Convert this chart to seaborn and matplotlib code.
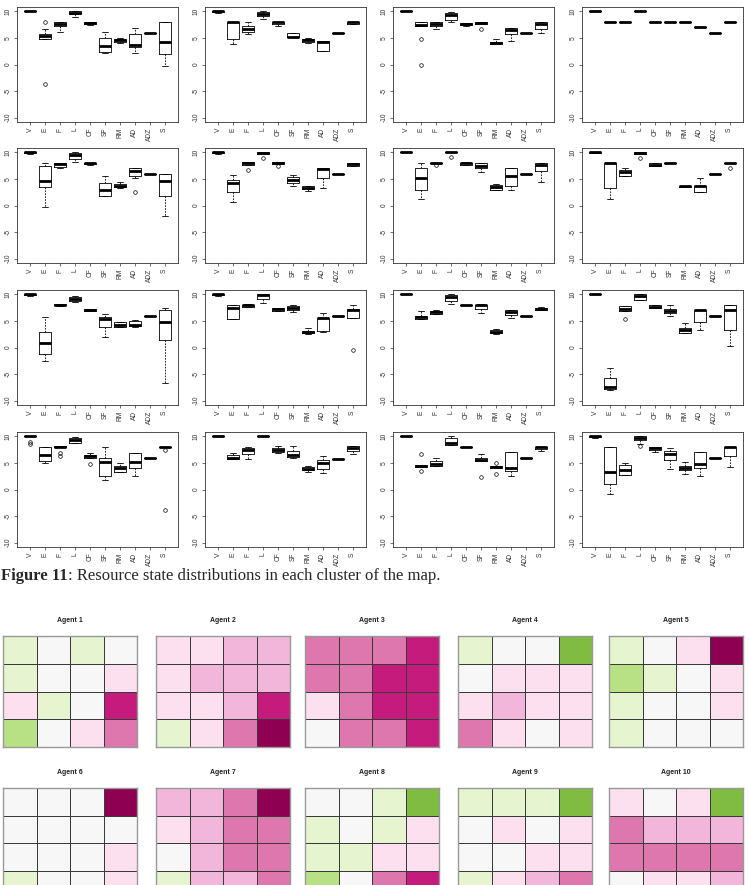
import matplotlib
matplotlib.use("Agg")
import matplotlib.pyplot as plt
from matplotlib.colors import ListedColormap
import pandas as pd
import seaborn as sns

# resource categories on the x axis of every box panel
resources = ["V", "E", "F", "L", "CF", "SF", "RM", "AD", "ADZ", "S"]

# one list per cluster, one sample list per resource
cluster01 = [[10] * 5, [-3.7, 4.8, 4.8, 5.0, 5.3, 5.6, 5.8, 6.6, 7.9], [6.1, 7.2, 7.6, 8.0, 8.0],
             [8.9, 9.4, 9.7, 10, 10], [7.5, 7.7, 7.8, 8.0, 8.0], [2.1, 2.4, 3.4, 4.9, 6.1],
             [4.1, 4.3, 4.6, 4.8, 5.0], [2.25, 3.3, 3.75, 5.8, 6.9], [5.9] * 5, [-0.2, 1.9, 4.25, 7.9, 7.9]]
cluster02 = [[9.75, 9.85, 10, 10, 10], [3.9, 4.75, 8.0, 8.0, 8.0], [5.8, 6.1, 6.6, 7.2, 7.9],
             [8.5, 9.1, 9.4, 9.9, 10], [7.3, 7.7, 8.0, 8.0, 8.0], [5.1, 5.1, 5.2, 6.0, 6.0],
             [4.1, 4.25, 4.55, 4.7, 4.9], [2.6, 2.6, 4.25, 4.4, 4.4], [5.9] * 5, [7.6, 7.7, 7.9, 8.0, 8.0]]
cluster03 = [[10] * 5, [0.0, 4.7, 7.2, 7.3, 7.4, 7.7, 8.0, 8.0, 8.0], [6.6, 7.2, 7.6, 8.0, 8.0],
             [8.0, 8.45, 9.25, 9.75, 9.9], [7.3, 7.45, 7.6, 7.8, 7.85], [6.6, 7.6, 7.6, 7.7, 7.8, 7.9, 8.0, 8.0, 8.0],
             [3.8, 3.9, 4.1, 4.3, 4.8], [4.45, 5.8, 6.55, 6.9, 6.9], [5.9] * 5, [6.0, 6.75, 7.7, 7.9, 7.9]]
cluster04 = [[10] * 5, [8] * 5, [8] * 5, [10] * 5, [8] * 5, [8] * 5, [8] * 5, [7] * 5, [6] * 5, [8] * 5]
cluster05 = [[9.75, 9.85, 10, 10, 10], [-0.25, 3.4, 4.65, 7.35, 8.0], [7.0, 7.2, 7.8, 8.0, 8.0],
             [8.25, 8.75, 9.5, 9.9, 10], [7.7, 7.8, 8.0, 8.0, 8.0], [1.8, 1.8, 2.95, 4.2, 5.6],
             [3.2, 3.4, 3.7, 4.0, 4.35], [2.6, 5.15, 5.6, 6.0, 6.55, 6.8, 7.0, 7.0, 7.0], [6] * 5,
             [-1.95, 1.8, 4.65, 5.85, 6.0]]
cluster06 = [[9.75, 9.85, 10, 10, 10], [0.75, 2.45, 4.2, 4.85, 5.8], [6.65, 7.7, 7.7, 7.8, 7.9, 8.0, 8.1, 8.1, 8.1],
             [8.9, 9.7, 9.7, 9.8, 9.9, 10, 10, 10, 10], [7.45, 7.85, 7.85, 7.9, 8.0, 8.05, 8.1, 8.1, 8.1],
             [3.6, 4.3, 4.8, 5.3, 5.8], [2.7, 3.1, 3.35, 3.6, 3.7], [3.2, 5.25, 6.9, 7.05, 7.05], [6] * 5,
             [7.4, 7.5, 7.8, 7.9, 8.0]]
cluster07 = [[10] * 5, [1.2, 2.9, 5.15, 7.05, 7.9], [7.6, 7.9, 8.0, 8.0, 8.0], [9.2, 10, 10, 10, 10],
             [7.6, 7.7, 7.9, 8.0, 8.1], [6.2, 7.0, 7.5, 7.9, 8.0], [2.9, 2.95, 3.4, 3.8, 4.1],
             [2.95, 3.7, 5.6, 7.0, 7.0], [6] * 5, [4.35, 6.4, 7.7, 7.9, 8.0]]
cluster08 = [[9.8, 9.9, 10, 10, 10], [1.2, 3.2, 8.0, 8.0, 8.0], [5.6, 5.6, 6.2, 6.65, 7.0],
             [8.9, 9.6, 9.6, 9.7, 9.8, 9.9, 10, 10, 10], [7.5, 7.5, 7.6, 8.0, 8.0], [8] * 5,
             [3.4, 3.45, 3.6, 3.7, 3.75], [2.6, 2.6, 3.6, 3.7, 5.1], [6] * 5, [7.0, 8.0, 8.0, 8.0, 8.0]]
cluster09 = [[9.75, 9.85, 10, 10, 10], [-2.6, -1.3, 0.9, 3.0, 5.7], [7.8, 7.9, 8.0, 8.1, 8.2],
             [8.5, 8.8, 9.1, 9.4, 9.6], [6.8, 6.9, 7.0, 7.2, 7.3], [1.9, 3.8, 5.3, 5.7, 6.2],
             [3.8, 3.9, 4.3, 4.7, 4.8], [3.9, 4.0, 4.3, 4.9, 5.1], [6] * 5, [-6.6, 1.5, 4.7, 7.0, 7.4]]
cluster10 = [[9.75, 9.85, 10, 10, 10], [5.3, 5.3, 7.5, 8.0, 8.0], [7.6, 7.6, 7.9, 8.0, 8.1],
             [8.4, 9.2, 9.8, 10, 10], [6.85, 6.85, 7.2, 7.5, 7.5], [6.7, 7.05, 7.35, 7.8, 8.0],
             [2.6, 2.7, 2.9, 3.1, 3.65], [2.9, 3.1, 5.45, 5.6, 6.4], [5.9] * 5,
             [-0.5, 5.45, 5.45, 6.5, 7.0, 7.1, 7.2, 7.6, 8.0]]
cluster11 = [[10] * 5, [5.3, 5.3, 5.7, 6.0, 6.85], [6.2, 6.2, 6.6, 6.85, 7.0], [8.2, 8.75, 9.5, 9.8, 10],
             [8] * 5, [6.4, 7.3, 8.0, 8.0, 8.1], [2.5, 2.65, 2.95, 3.3, 3.4], [5.45, 6.1, 6.7, 7.05, 7.05],
             [5.9] * 5, [7.0, 7.05, 7.3, 7.5, 7.6]]
cluster12 = [[10] * 5, [-8.0, -7.8, -7.4, -5.7, -3.8], [5.4, 6.85, 7.2, 7.8, 7.8], [8.9, 8.9, 9.7, 10, 10],
             [7.35, 7.35, 7.6, 8.0, 8.0], [6.0, 6.4, 6.85, 7.2, 8.0], [2.8, 2.8, 3.3, 3.6, 4.65],
             [3.2, 4.85, 7.0, 7.05, 7.05], [5.9] * 5, [0.25, 3.3, 7.0, 8.0, 8.0]]
cluster13 = [[8.5, 8.9, 10, 10, 10, 10, 10, 10, 10], [4.9, 5.4, 6.55, 7.9, 7.9],
             [6.3, 6.8, 7.9, 7.95, 8.0, 8.05, 8.1, 8.1, 8.1], [8.75, 8.75, 9.25, 9.7, 9.8],
             [4.7, 5.85, 5.85, 6.1, 6.25, 6.35, 6.45, 6.7, 6.9], [1.75, 2.5, 5.1, 5.85, 7.9],
             [3.2, 3.2, 3.95, 4.4, 5.0], [2.55, 4.1, 5.1, 6.9, 6.9], [5.85] * 5,
             [-3.9, 7.5, 7.9, 7.95, 8.0, 8.0, 8.0, 8.0, 8.0]]
cluster14 = [[10] * 5, [5.7, 5.7, 6.0, 6.55, 6.85], [5.8, 6.7, 7.5, 7.8, 8.0], [10] * 5,
             [6.85, 7.0, 7.5, 7.8, 8.1], [5.9, 6.05, 6.55, 7.2, 8.1], [3.3, 3.7, 3.9, 4.15, 4.35],
             [3.1, 3.9, 5.0, 5.6, 6.35], [5.8] * 5, [6.7, 7.2, 7.8, 8.1, 8.1]]
cluster15 = [[10] * 5, [3.4, 4.2, 4.2, 4.3, 4.45, 4.55, 4.65, 4.65, 6.7], [4.45, 4.45, 4.8, 5.3, 5.9],
             [8.45, 8.45, 8.75, 9.6, 10], [8] * 5, [2.3, 5.4, 5.4, 5.5, 5.6, 5.7, 5.9, 6.2, 6.6],
             [2.9, 4.0, 4.0, 4.1, 4.15, 4.25, 4.35, 4.35, 5.0], [2.45, 3.4, 4.0, 7.0, 7.0], [5.9] * 5,
             [7.3, 7.7, 8.0, 8.0, 8.0]]
cluster16 = [[9.75, 9.85, 10, 10, 10], [-0.8, 1.0, 3.2, 8.0, 8.0], [2.65, 2.65, 3.7, 4.65, 5.0],
             [8.1, 8.6, 9.25, 9.4, 9.6, 9.8, 10, 10, 10], [7.0, 7.5, 7.8, 8.0, 8.0],
             [3.85, 5.6, 6.65, 7.2, 7.8], [2.9, 3.7, 4.0, 4.35, 5.1], [2.6, 4.0, 4.8, 7.0, 7.0], [5.9] * 5,
             [4.15, 6.35, 8.0, 8.0, 8.0]]

# 4x4 resource maps for each agent (class -5 .. 5 on the PiYG scale)
agent01 = [[1, 0, 1, 0], [1, 0, 0, -1], [-1, 1, 0, -4], [2, 0, -1, -3]]
agent02 = [[-1, -1, -2, -2], [-1, -2, -2, -2], [-1, -1, -2, -4], [1, -1, -3, -5]]
agent03 = [[-3, -3, -3, -4], [-3, -3, -4, -4], [-1, -3, -4, -4], [0, -3, -3, -4]]
agent04 = [[1, 0, 0, 3], [0, -1, -1, -1], [-1, -2, -1, -1], [-3, -1, 0, -1]]
agent05 = [[1, 0, -1, -5], [2, 1, 0, -1], [1, 0, 0, -1], [1, 0, 0, 0]]
agent06 = [[0, 0, 0, -5], [0, 0, 0, 0], [0, 0, 0, -1], [1, 0, 0, -1]]
agent07 = [[-2, -2, -3, -5], [-1, -2, -3, -3], [0, -2, -3, -3], [1, -2, -2, -3]]
agent08 = [[0, 0, 1, 3], [1, 0, 1, -1], [1, 1, -1, -1], [2, 0, -3, -4]]
agent09 = [[1, 1, 1, 3], [0, -1, 0, -1], [0, 0, -1, -1], [1, -1, -2, -3]]
agent10 = [[-1, 0, -1, 3], [-3, -2, -2, -2], [-3, -3, -3, -3], [0, -1, -1, -2]]

clusters = [cluster01, cluster02, cluster03, cluster04, cluster05, cluster06, cluster07, cluster08,
            cluster09, cluster10, cluster11, cluster12, cluster13, cluster14, cluster15, cluster16]
agents = [agent01, agent02, agent03, agent04, agent05, agent06, agent07, agent08, agent09, agent10]

piyg = ["#8e0152", "#c51b7d", "#de77ae", "#f1b6da", "#fde0ef", "#f7f7f7",
        "#e6f5d0", "#b8e186", "#7fbc41", "#4d9221", "#276419"]

sns.set_style("white")
plt.rcParams["font.family"] = ["Liberation Sans", "DejaVu Sans"]

W, H = 750, 885
fig = plt.figure(figsize=(W / 100, H / 100), dpi=100)


def px_axes(left, top, width, height):
	return fig.add_axes([left / W, 1 - (top + height) / H, width / W, height / H])


def BoxPanel(ax, cluster):
	df = pd.DataFrame([(r, v) for r, vals in zip(resources, cluster) for v in vals], columns=["resource", "value"])
	sns.boxplot(data=df, x="resource", y="value", order=resources, ax=ax, color="black", fill=False,
				width=0.8, linewidth=0.6, whis=1.5,
				medianprops={"linewidth": 2.0, "color": "black"},
				whiskerprops={"linestyle": (0, (2, 1.5)), "linewidth": 0.6},
				flierprops={"marker": "o", "markersize": 2.6, "markerfacecolor": "none",
							"markeredgecolor": "black", "markeredgewidth": 0.5})
	ax.set_xlim(-0.9, 9.9)
	ax.set_ylim(-10.8, 10.8)
	ax.set_yticks([-10, -5, 0, 5, 10])
	ax.set_yticklabels(["-10", "-5", "0", "5", "10"], rotation=90, va="center")
	ax.set_xticks(range(len(resources)))
	ax.set_xticklabels(resources, rotation=90)
	ax.tick_params(labelsize=4.8, length=2.5, width=0.5, pad=1.5, colors="#333333", left=True, bottom=True)
	ax.set_xlabel("")
	ax.set_ylabel("")
	for s in ax.spines.values():
		s.set_visible(True)
		s.set_linewidth(0.6)
		s.set_color("#333333")


box_lefts = [17, 205, 393, 582]
box_tops = [7, 148, 290, 432]
for i, cluster in enumerate(clusters):
	ax = px_axes(box_lefts[i % 4], box_tops[i // 4], 161, 115)
	BoxPanel(ax, cluster)

# caption
renderer = fig.canvas.get_renderer()
t1 = fig.text(1 / W, 1 - 580 / H, "Figure 11", family=["Liberation Serif"], fontsize=12,
			  fontweight="bold", va="baseline", ha="left")
bb = t1.get_window_extent(renderer)
fig.text(bb.x1 / W, 1 - 580 / H, ": Resource state distributions in each cluster of the map.",
		 family=["Liberation Serif"], fontsize=12, va="baseline", ha="left")

# agent heat maps
cmap = ListedColormap(piyg)
heat_lefts = [3, 156, 305, 458, 609]
heat_tops = [636, 788]
for i, grid in enumerate(agents):
	ax = px_axes(heat_lefts[i % 5], heat_tops[i // 5], 134, 111)
	sns.heatmap(grid, ax=ax, cmap=cmap, vmin=-5.5, vmax=5.5, cbar=False, xticklabels=False,
				yticklabels=False, linewidths=0.7, linecolor="#3a3a3a")
	for s in ax.spines.values():
		s.set_visible(True)
		s.set_linewidth(1.0)
		s.set_color("#999999")
	ax.set_title("Agent " + str(i + 1), fontsize=5, fontweight="bold", color="#222222", pad=10)

fig.savefig("out.png", dpi=100)
